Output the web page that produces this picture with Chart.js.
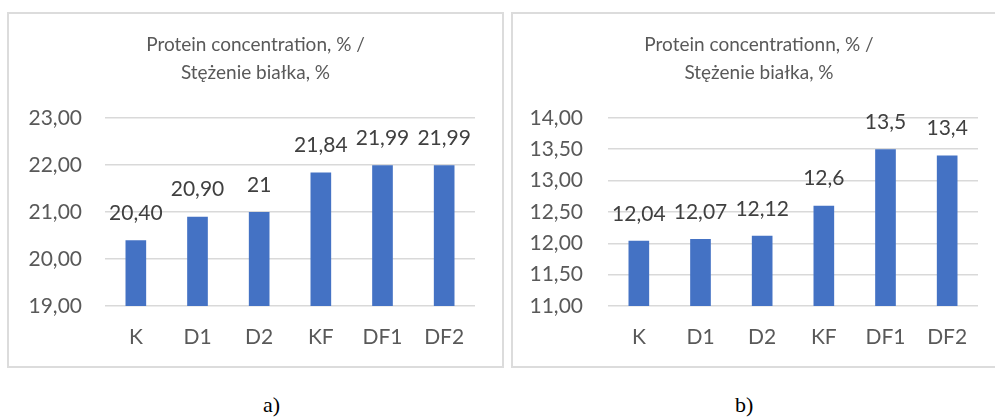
<!DOCTYPE html>
<html>
<head>
<meta charset="utf-8">
<script src="https://cdn.jsdelivr.net/npm/chart.js@4"></script>
<style>
  html, body { margin: 0; padding: 0; background: #fff; }
  body { width: 995px; height: 418px; position: relative; overflow: hidden; }
  .box { position: absolute; top: 12px; width: 492px; height: 352px; border: 2px solid #dcdcdc; box-sizing: content-box; }
  #boxA { left: 7px; width: 493px; }
  #boxB { left: 511px; }
  .box canvas { position: absolute; left: 0; top: 0; }
  .cap { position: absolute; top: 392px; font-family: "Liberation Serif", "Times New Roman", serif; font-size: 22px; color: #000; }
</style>
</head>
<body>
<div class="box" id="boxA"><canvas id="chartA" width="493" height="352"></canvas></div>
<div class="box" id="boxB"><canvas id="chartB" width="492" height="352"></canvas></div>
<div class="cap" style="left:263px">a)</div>
<div class="cap" style="left:735px">b)</div>

<script>
// Sample groups
const categories = ['K', 'D1', 'D2', 'KF', 'DF1', 'DF2'];

// a) protein concentration, %
const proteinA = [20.40, 20.90, 21, 21.84, 21.99, 21.99];
const decimalsA = [2, 2, 0, 2, 2, 2];
const titleA = ['Protein concentration, % /', 'Stężenie białka, %'];
const yRangeA = { min: 19, max: 23, step: 1 };

// b) protein concentration, %
const proteinB = [12.04, 12.07, 12.12, 12.6, 13.5, 13.4];
const decimalsB = [2, 2, 2, 1, 1, 1];
const titleB = ['Protein concentrationn, % /', 'Stężenie białka, %'];
const yRangeB = { min: 11, max: 14, step: 0.5 };

const FONT = 'Lato, "Open Sans", sans-serif';
const BAR = '#4472C4';
const TEXT = '#595959';
const LABEL = '#404040';
const GRID = '#d9d9d9';

const comma = (v, d) => v.toFixed(d).replace('.', ',');

// Value labels above each bar
const valueLabels = {
  id: 'valueLabels',
  afterDatasetsDraw(chart) {
    const ctx = chart.ctx;
    const ds = chart.data.datasets[0];
    const meta = chart.getDatasetMeta(0);
    ctx.save();
    ctx.font = '21px ' + FONT;
    ctx.fillStyle = LABEL;
    ctx.textAlign = 'center';
    ctx.textBaseline = 'middle';
    meta.data.forEach((bar, i) => {
      ctx.fillText(comma(ds.data[i], ds.decimals[i]), bar.x, bar.y - 27);
    });
    ctx.restore();
  }
};

function build(id, values, decimals, title, range, yWidth, yPad) {
  new Chart(document.getElementById(id), {
    type: 'bar',
    data: {
      labels: categories,
      datasets: [{
        data: values,
        decimals: decimals,
        backgroundColor: BAR,
        barPercentage: 0.335,
        categoryPercentage: 1
      }]
    },
    options: {
      responsive: false,
      animation: false,
      events: [],
      layout: { padding: 0 },
      plugins: {
        legend: { display: false },
        tooltip: { enabled: false },
        title: {
          display: true,
          text: title,
          color: TEXT,
          font: { family: FONT, size: 19, weight: 'normal', lineHeight: 1.47 },
          padding: { top: 17, bottom: 31 }
        }
      },
      scales: {
        x: {
          grid: { display: false, drawTicks: false },
          border: { display: false },
          ticks: { color: TEXT, font: { family: FONT, size: 21 }, padding: 19 },
          afterFit(s) { s.height = 60; }
        },
        y: {
          min: range.min,
          max: range.max,
          grid: { color: GRID, lineWidth: 1.5, drawTicks: false },
          border: { display: false },
          ticks: {
            stepSize: range.step,
            color: TEXT,
            font: { family: FONT, size: 21 },
            padding: yPad,
            callback: v => comma(v, 2)
          },
          afterFit(s) { s.width = yWidth; }
        },
        // empty right-hand margin so the title stays centred on the panel
        margin: {
          type: 'linear',
          position: 'right',
          grid: { display: false, drawTicks: false },
          border: { display: false },
          ticks: { display: false },
          afterFit(s) { s.width = 27; }
        }
      }
    },
    plugins: [valueLabels]
  });
}

build('chartA', proteinA, decimalsA, titleA, yRangeA, 96, 23);
build('chartB', proteinB, decimalsB, titleB, yRangeB, 95, 25);
</script>
</body>
</html>
